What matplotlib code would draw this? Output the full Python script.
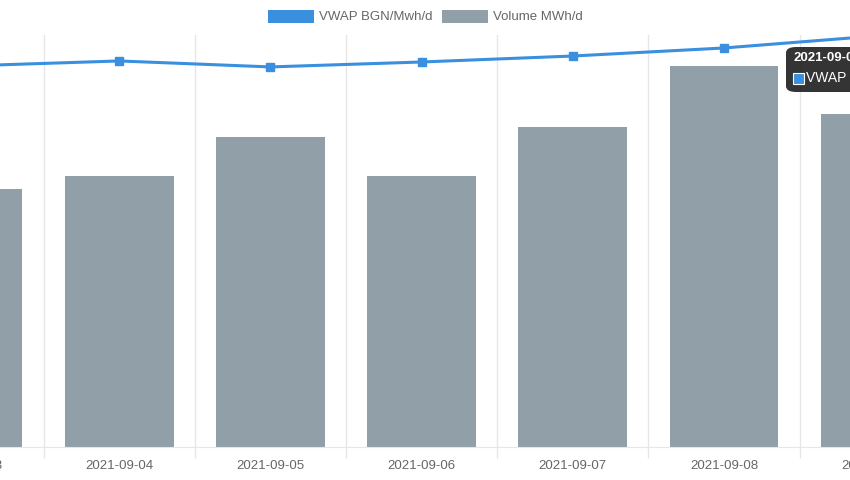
import matplotlib
matplotlib.use("Agg")
import matplotlib.pyplot as plt
from matplotlib.patches import FancyBboxPatch, Rectangle
import matplotlib.transforms as mtransforms
import numpy as np

plt.rcParams['font.family'] = ['Liberation Sans', 'DejaVu Sans']

dates = ["2021-09-03", "2021-09-04", "2021-09-05", "2021-09-06",
         "2021-09-07", "2021-09-08", "2021-09-09"]
volume = [50100, 52600, 60200, 52600, 62100, 74000, 64700]
vwap = [185.0, 187.4, 184.5, 186.9, 189.8, 193.7, 199.5]

blue = "#3a8fdf"
gray = "#919fa9"
grid_c = "#e6e6e6"

W, H = 850, 480
fig = plt.figure(figsize=(W / 100, H / 100), dpi=100)
ax = fig.add_axes([0, (H - 447) / H, 1, (447 - 35) / H])
x = np.arange(len(dates))
step = 151.2
x0 = -32

ax.bar(x, volume, width=0.72, color=gray, zorder=2)

ax.set_xticks(x)
ax.set_xticklabels([])
ax.tick_params(axis='x', which='major', length=0)
ax.set_xticks(x[:-1] + 0.5, minor=True)
ax.tick_params(axis='x', which='minor', length=8, color=grid_c, width=1)
ax.grid(True, axis='x', which='minor', color=grid_c, linewidth=1, zorder=0)
ax.set_yticks([])
for s in ['top', 'right', 'left']:
    ax.spines[s].set_visible(False)
ax.spines['bottom'].set_color(grid_c)

# category labels (drawn as text so the partially visible ones at the edges show)
trans = mtransforms.blended_transform_factory(ax.transData, fig.transFigure)
for xi, d in zip(x, dates):
    ax.text(xi, 1 - 466 / H, d, transform=trans, ha='center', va='center',
            fontsize=9.5, color="#666666", clip_on=False)

ax2 = ax.twinx()
ax2.plot(x, vwap, color=blue, linewidth=2.2, marker='s', markersize=6,
         markerfacecolor=blue, markeredgecolor=blue, zorder=5)
ax2.set_yticks([])
for s in ax2.spines.values():
    s.set_visible(False)

ax.set_ylim(0, 80000)
ax2.set_ylim(0, 200)
ax.set_xlim((0 - x0) / step, (W - x0) / step)

# Legend
def px(xp, yp):
    return xp / W, 1 - yp / H

fig.patches.append(Rectangle(px(268, 23), 46 / W, 13 / H, transform=fig.transFigure,
                             facecolor=blue, edgecolor='none'))
fig.text(*px(319, 16.5), "VWAP BGN/Mwh/d", fontsize=9.5, color="#666666", va='center', ha='left')
fig.patches.append(Rectangle(px(442, 23), 46 / W, 13 / H, transform=fig.transFigure,
                             facecolor=gray, edgecolor='none'))
fig.text(*px(493, 16.5), "Volume MWh/d", fontsize=9.5, color="#666666", va='center', ha='left')

# Tooltip (cut at right edge)
tip = FancyBboxPatch(px(786, 92), 160 / W, 45 / H, transform=fig.transFigure,
                     boxstyle="round,pad=0,rounding_size=0.012",
                     facecolor="#1e1e1e", edgecolor='none', alpha=0.9, zorder=10)
fig.patches.append(tip)
fig.text(*px(793, 58), "2021-09-09", fontsize=9.5, color="white", fontweight='bold',
         va='center', ha='left', zorder=11)
fig.patches.append(Rectangle(px(793, 84), 11 / W, 11 / H, transform=fig.transFigure,
                             facecolor=blue, edgecolor='white', linewidth=0.8, zorder=11))
fig.text(*px(806, 78), "VWAP BGN/Mwh/d: 199.5", fontsize=10, color="white",
         va='center', ha='left', zorder=11)

fig.savefig("out.png", dpi=100)
